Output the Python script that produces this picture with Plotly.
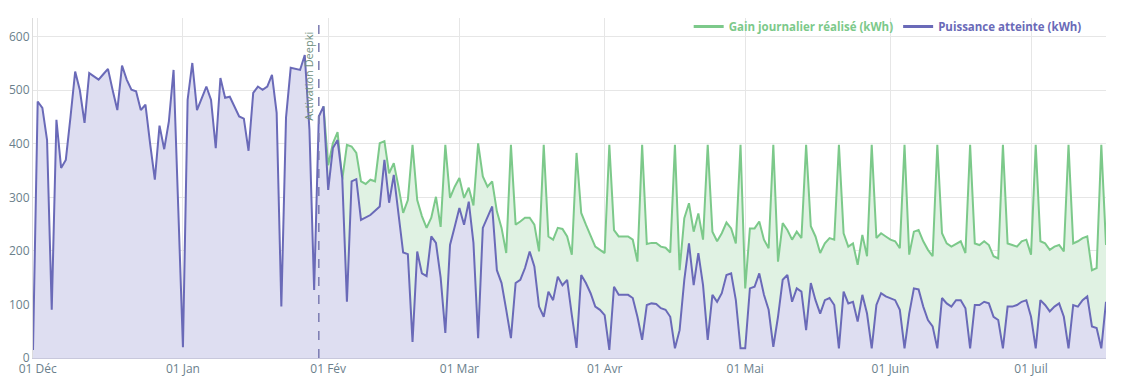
import pandas as pd
import plotly.graph_objects as go

start_date = "2018-11-30"

puissance = [15,
 479, 467, 407, 90, 445, 355, 370, 450, 535, 500, 439, 532, 526, 520, 530, 540, 500, 463, 546, 520,
 501, 498, 463, 473, 400, 333, 434, 390, 442, 538, 280,
 20, 482, 551, 463, 485, 507, 482, 392, 523, 486, 488, 470, 451, 447, 387, 495, 507, 501, 507, 529,
 458, 96, 449, 542, 540, 538, 566, 426, 127, 451, 470,
 314, 392, 407, 336, 105, 330, 334, 258, 262, 267, 275, 283, 370, 290, 342, 270, 197, 194, 30, 199,
 158, 153, 227, 215, 150, 47, 211, 245,
 280, 249, 292, 215, 37, 243, 262, 283, 164, 140, 90, 37, 140, 146, 168, 199, 171, 96, 77, 124,
 108, 152, 136, 146, 80, 19, 155, 140, 121, 96, 90,
 80, 15, 133, 118, 118, 118, 112, 77, 34, 99, 102, 101, 93, 90, 77, 18, 52, 146, 214, 136,
 196, 136, 34, 118, 105, 121, 155, 158, 108, 18,
 18, 130, 133, 158, 118, 90, 21, 77, 146, 155, 105, 130, 124, 52, 140, 108, 83, 108, 112, 99,
 18, 124, 102, 105, 68, 118, 83, 18, 99, 121, 115,
 112, 108, 90, 18, 83, 130, 128, 96, 71, 59, 18, 112, 102, 96, 108, 108, 93, 18, 99, 99,
 105, 102, 77, 71, 18, 96, 96, 99, 105, 108,
 77, 18, 108, 99, 87, 96, 102, 77, 18, 99, 96, 108, 115, 59, 56, 18, 105]

gain_start = "2019-01-31"
gain = [470,
 360, 401, 422, 333, 398, 395, 383, 330, 325, 333, 330, 401, 405, 345, 364, 320, 271, 295, 398,
 295, 265, 243, 262, 301, 245, 398, 299, 320,
 336, 299, 318, 285, 401, 339, 320, 330, 274, 243, 196, 398, 249, 255, 262, 262, 249, 199, 398, 227,
 221, 243, 241, 227, 193, 383, 271, 249, 230, 208, 202,
 196, 398, 239, 227, 227, 227, 221, 180, 398, 213, 215, 215, 208, 206, 197, 398, 164, 261, 289, 236,
 270, 221, 398, 236, 218, 233, 253, 242, 214, 398,
 130, 242, 242, 255, 221, 205, 398, 180, 252, 239, 221, 236, 224, 398, 246, 227, 196, 214, 224, 221,
 398, 233, 208, 214, 174, 230, 190, 398, 224, 233, 227,
 221, 218, 205, 398, 193, 236, 239, 218, 202, 190, 398, 233, 214, 208, 213, 218, 196, 398, 214, 211,
 218, 211, 190, 186, 398, 214, 211, 208, 218, 221,
 193, 398, 218, 214, 202, 208, 211, 199, 398, 214, 218, 224, 227, 164, 168, 398, 211]

month_ticks = ["2018-12-01", "2019-01-01", "2019-02-01", "2019-03-01",
               "2019-04-01", "2019-05-01", "2019-06-01", "2019-07-01"]
month_labels = ["01 Déc", "01 Jan", "01 Fév", "01 Mar", "01 Avr", "01 Mai", "01 Juin", "01 Juil"]
y_ticks = [0, 100, 200, 300, 400, 500, 600]

event_date = "2019-01-30"
event_label = "Activation Deepki"

name_gain = "Gain journalier réalisé (kWh)"
name_puis = "Puissance atteinte (kWh)"

green = "#7cc98a"
purple = "#6a6ab8"
tick_col = "#6b7f8c"

dates_p = pd.date_range(start_date, periods=len(puissance), freq="D")
dates_g = pd.date_range(gain_start, periods=len(gain), freq="D")

fig = go.Figure()
fig.add_trace(go.Scatter(x=dates_g, y=gain, mode="lines", fill="tozeroy",
                         line=dict(color=green, width=2), fillcolor="#e0f2e3",
                         showlegend=False, hoverinfo="x+y", name=name_gain))
fig.add_trace(go.Scatter(x=dates_p, y=puissance, mode="lines", fill="tozeroy",
                         line=dict(color=purple, width=2), fillcolor="#dedef1",
                         showlegend=False, hoverinfo="x+y", name=name_puis))
# legend entries
fig.add_trace(go.Scatter(x=[None], y=[None], mode="lines", line=dict(color=green, width=3),
                         name=f"<b><span style='color:{green}'>{name_gain}</span></b>"))
fig.add_trace(go.Scatter(x=[None], y=[None], mode="lines", line=dict(color=purple, width=3),
                         name=f"<b><span style='color:{purple}'>{name_puis}</span></b>"))

fig.add_shape(type="line", xref="x", yref="paper", x0=event_date, x1=event_date, y0=0, y1=1,
              line=dict(color="#7a7ab0", width=1.5, dash="dash"))
fig.add_annotation(x=event_date, y=1, xref="x", yref="paper", text=event_label, textangle=-90,
                   showarrow=False, xanchor="right", yanchor="top", xshift=-1, yshift=-12,
                   font=dict(size=11, color="#6f8f80"))

# page body has an 8px default margin: size the figure so the plot area lands where the reference's is
fig.update_layout(
    width=1116, height=382,
    margin=dict(l=25, r=18, t=10, b=32, autoexpand=False),
    paper_bgcolor="white", plot_bgcolor="white",
    font=dict(family="Open Sans", size=12, color=tick_col),
    legend=dict(orientation="h", x=0.982, xanchor="right", y=1.018, yanchor="top",
                bgcolor="rgba(0,0,0,0)", font=dict(size=11.5), itemwidth=30,
                traceorder="normal"),
)
fig.update_xaxes(type="date", range=["2018-11-30", "2019-07-17"],
                 tickvals=month_ticks, ticktext=month_labels, automargin=False,
                 showgrid=True, gridcolor="#e6e6e6", gridwidth=1,
                 showline=True, linecolor="#c8c8dc", linewidth=1,
                 tickfont=dict(size=12, color=tick_col), ticks="")
fig.update_yaxes(range=[0, 635], tickvals=y_ticks, automargin=False,
                 showgrid=True, gridcolor="#e6e6e6", gridwidth=1,
                 showline=True, linecolor="#dcdcdc", linewidth=1,
                 zeroline=False, tickfont=dict(size=12, color=tick_col), ticks="")

fig.write_html("out.html")
